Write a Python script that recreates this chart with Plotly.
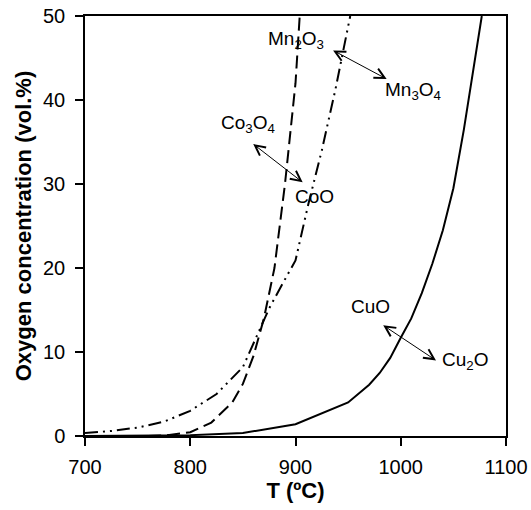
import plotly.graph_objects as go

# Equilibrium O2 concentration vs temperature for three redox pairs
t_cu = [700, 750, 800, 850, 900, 950, 960, 970, 980, 990, 1000, 1010, 1020,
        1030, 1040, 1050, 1060, 1070, 1077]
o2_cu = [0.0, 0.03, 0.1, 0.35, 1.4, 4.0, 5.0, 6.1, 7.5, 9.3, 11.7, 14.0, 17.0,
         20.5, 24.5, 29.5, 36.5, 44.5, 50.0]

t_co = [760, 780, 800, 820, 840, 850, 860, 870, 880, 890, 900, 904]
o2_co = [0.0, 0.12, 0.45, 1.6, 4.0, 6.2, 9.5, 14.0, 20.0, 30.0, 42.0, 50.0]

t_mn = [700, 725, 750, 775, 800, 825, 850, 862, 875, 888, 900, 912, 925, 938,
        950, 952]
o2_mn = [0.35, 0.6, 1.0, 1.7, 3.0, 5.0, 8.2, 11.6, 15.2, 18.2, 20.9, 27.5,
         34.0, 41.3, 48.7, 50.0]

# Phase labels: text, x, y
labels = ["Mn<sub>2</sub>O<sub>3</sub>", "Mn<sub>3</sub>O<sub>4</sub>",
          "Co<sub>3</sub>O<sub>4</sub>", "CoO", "CuO", "Cu<sub>2</sub>O"]
label_x = [900.9, 1011.6, 854.9, 918.1, 971.7, 1061.5]
label_y = [47.1, 41.1, 37.1, 28.5, 15.4, 8.9]

# Double-headed arrows between phase pairs: (x0, y0) -> (x1, y1)
arrow_x0 = [934.3, 858.4, 981.9]
arrow_y0 = [46.0, 34.9, 13.3]
arrow_x1 = [986.6, 906.8, 1033.5]
arrow_y1 = [42.5, 30.2, 9.0]

FONT = "Liberation Sans, Arial, sans-serif"

fig = go.Figure()
fig.add_trace(go.Scatter(x=t_cu, y=o2_cu, mode="lines",
                         line=dict(color="black", width=2), showlegend=False))
fig.add_trace(go.Scatter(x=t_co, y=o2_co, mode="lines",
                         line=dict(color="black", width=2, dash="13px,6px"),
                         showlegend=False))
fig.add_trace(go.Scatter(x=t_mn, y=o2_mn, mode="lines",
                         line=dict(color="black", width=2,
                                   dash="13px,5px,2px,5px,2px,5px"),
                         showlegend=False))

for txt, x, y in zip(labels, label_x, label_y):
    fig.add_annotation(x=x, y=y, text=txt, showarrow=False,
                       font=dict(family=FONT, size=19, color="black"))

for x0, y0, x1, y1 in zip(arrow_x0, arrow_y0, arrow_x1, arrow_y1):
    fig.add_annotation(x=x1, y=y1, ax=x0, ay=y0, xref="x", yref="y",
                       axref="x", ayref="y", text="", showarrow=True,
                       arrowhead=5, startarrowhead=5, arrowside="end+start",
                       arrowsize=2, startarrowsize=2, arrowwidth=1,
                       arrowcolor="black", standoff=0, startstandoff=0)

axis_common = dict(showline=True, linecolor="black", linewidth=1.5,
                   mirror=True, ticks="outside", ticklen=8, tickwidth=1.5,
                   tickcolor="black", showgrid=False, zeroline=False,
                   automargin=False,
                   tickfont=dict(family=FONT, size=20, color="black"))

fig.update_xaxes(range=[700, 1100], dtick=100, ticklabelstandoff=4,
                 title=dict(text="<b>T (ºC)</b>", standoff=6,
                            font=dict(family=FONT, size=22, color="black")),
                 **axis_common)
fig.update_yaxes(range=[0, 50], dtick=10, ticklabelstandoff=6,
                 title=dict(text="<b>Oxygen concentration (vol.%)</b>",
                            standoff=5,
                            font=dict(family=FONT, size=22, color="black")),
                 **axis_common)

fig.update_layout(width=531, height=510, plot_bgcolor="white",
                  paper_bgcolor="white",
                  margin=dict(l=85, r=25, t=16, b=74))

fig.write_html("out.html")
